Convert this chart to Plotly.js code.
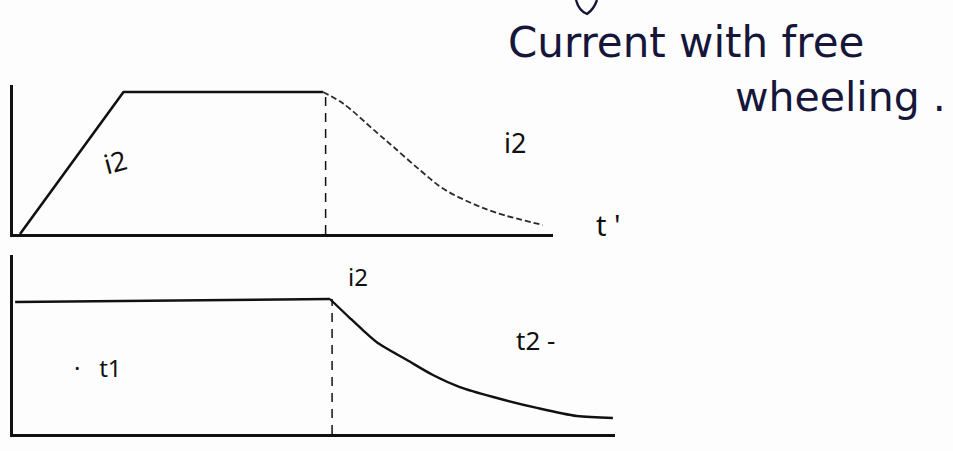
<!DOCTYPE html>
<html>
<head>
<meta charset="utf-8">
<script src="https://cdn.plot.ly/plotly-3.0.1.min.js"></script>
<style>
  html, body { margin: 0; padding: 0; background: #fdfdfd; }
  #chart { width: 953px; height: 451px; }
</style>
</head>
<body>
<div id="chart"></div>
<script>
// Upper trace: current rise, flat top, then free-wheeling decay (dashed)
const tRise = [0.13, 2.05, 5.75];
const iRise = [0, 1, 1];
const tFree = [5.75, 6.12, 6.75, 7.05, 7.55, 7.98, 8.48, 8.98, 9.83];
const iFree = [1.0, 0.92, 0.714, 0.616, 0.45, 0.32, 0.222, 0.148, 0.063];
const switchTop = 5.8;

// Lower trace: flat interval t1, then decay over t2
const tHold = [0.04, 5.88];
const iHold = [0.978, 1.0];
const tDecay = [5.88, 6.25, 6.49, 6.75, 7.31, 7.79, 8.29, 8.91, 9.72, 10.46, 11.13];
const iDecay = [1.0, 0.859, 0.77, 0.68, 0.548, 0.437, 0.348, 0.274, 0.193, 0.133, 0.119];
const switchBottom = 5.92;

const W = 953, H = 451;
const px = v => v / W;
const py = v => 1 - v / H;

const ink = '#111111';
const pen = '#16163a';
const hand = 'Noto Sans, DejaVu Sans, sans-serif';
const wide = 'DejaVu Sans, Noto Sans, sans-serif';

const traces = [
  { x: tRise, y: iRise, xaxis: 'x', yaxis: 'y', mode: 'lines',
    line: { color: ink, width: 2.6 }, hoverinfo: 'skip' },
  { x: tFree, y: iFree, xaxis: 'x', yaxis: 'y', mode: 'lines',
    line: { color: '#2a2a2a', width: 1.8, dash: '6px,3px', shape: 'spline', smoothing: 1 },
    hoverinfo: 'skip' },
  { x: [switchTop, switchTop], y: [0, 1], xaxis: 'x', yaxis: 'y', mode: 'lines',
    line: { color: ink, width: 1.5, dash: '9px,7px' }, hoverinfo: 'skip' },
  { x: tHold, y: iHold, xaxis: 'x2', yaxis: 'y2', mode: 'lines',
    line: { color: ink, width: 2.6 }, hoverinfo: 'skip' },
  { x: tDecay, y: iDecay, xaxis: 'x2', yaxis: 'y2', mode: 'lines',
    line: { color: ink, width: 2.4, shape: 'spline', smoothing: 0.8 }, hoverinfo: 'skip' },
  { x: [switchBottom, switchBottom], y: [0, 1], xaxis: 'x2', yaxis: 'y2', mode: 'lines',
    line: { color: ink, width: 1.5, dash: '9px,7px' }, hoverinfo: 'skip' }
];

const axisBase = {
  showgrid: false, zeroline: false, showticklabels: false, ticks: '',
  showline: true, linecolor: ink, linewidth: 2.6, fixedrange: true
};

const pxPerT = (552 - 13) / 10;

// text placed by its centre, in pixel coordinates of the page
const label = (text, x, y, size, color, angle, family) => ({
  text, x: px(x), y: py(y), xref: 'paper', yref: 'paper',
  xanchor: 'center', yanchor: 'middle', showarrow: false, textangle: angle || 0,
  font: { family: family || hand, size, color }
});

const layout = {
  width: W, height: H,
  margin: { l: 0, r: 0, t: 0, b: 0 },
  paper_bgcolor: '#fdfdfd',
  plot_bgcolor: 'rgba(0,0,0,0)',
  showlegend: false,
  xaxis: Object.assign({}, axisBase, {
    domain: [px(13), px(553)], range: [0, (553 - 13) / pxPerT], anchor: 'y'
  }),
  yaxis: Object.assign({}, axisBase, {
    domain: [py(234), py(85)], range: [0, (234 - 85) / (234 - 92)], anchor: 'x'
  }),
  xaxis2: Object.assign({}, axisBase, {
    domain: [px(13), px(615)], range: [0, (615 - 13) / pxPerT], anchor: 'y2'
  }),
  yaxis2: Object.assign({}, axisBase, {
    domain: [py(434), py(255)], range: [0, (434 - 255) / (434 - 299)], anchor: 'x2'
  }),
  annotations: [
    label('Current with free', 686, 42, 42, pen, 0, wide),
    label('wheeling .', 840, 97, 41, pen, 0, wide),
    label('i2', 115, 162, 27, ink, -15),
    label('i2', 515, 142, 27, ink),
    label("t '", 608, 224, 29, ink),
    label('i2', 358, 276, 24, ink),
    label('t2 -', 535, 340, 26, ink),
    label('·\u00A0\u00A0 t1', 98, 367, 24, ink)
  ],
  shapes: [
    // tip of the arrow pointing at the caption
    { type: 'path', xref: 'paper', yref: 'paper',
      path: `M ${px(576)} ${py(0)} Q ${px(579)} ${py(11)} ${px(587)} ${py(14)} Q ${px(594)} ${py(9)} ${px(597)} ${py(0)}`,
      line: { color: pen, width: 2.4 } }
  ]
};

Plotly.newPlot('chart', traces, layout, { staticPlot: true, displayModeBar: false });
</script>
</body>
</html>
